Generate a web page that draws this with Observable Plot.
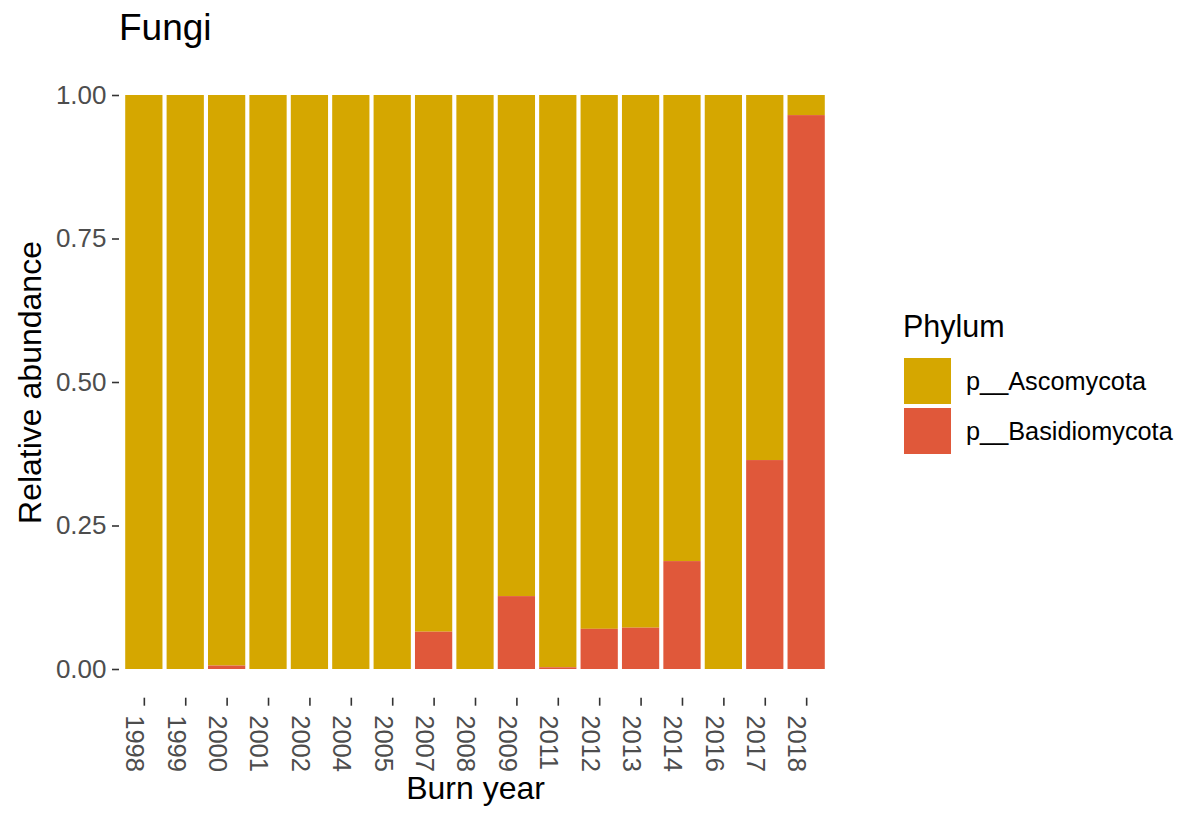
<!DOCTYPE html>
<html>
<head>
<meta charset="utf-8">
<script src="https://cdn.jsdelivr.net/npm/d3@7"></script>
<script src="https://cdn.jsdelivr.net/npm/@observablehq/plot@0.6"></script>
<style>
  body { margin: 0; background: #fff; font-family: "Liberation Sans", Arial, sans-serif; }
  #wrap { position: relative; width: 1180px; height: 814px; overflow: hidden; background: #fff; }
  #title { position: absolute; left: 119px; top: 9px; font-size: 37px; line-height: 1; color: #000; }
  #chart { position: absolute; left: 0; top: 60px; }
  #legend-title { position: absolute; left: 903px; top: 311px; font-size: 30.5px; line-height: 1; color: #000; }
  .sw { position: absolute; left: 904px; width: 47px; height: 46px; }
  .lab { position: absolute; left: 966px; height: 46px; line-height: 46px; font-size: 25.3px; color: #000; white-space: nowrap; }
</style>
</head>
<body>
<div id="wrap">
  <div id="title">Fungi</div>
  <div id="chart"></div>
  <div id="legend-title">Phylum</div>
  <div id="legend"></div>
</div>
<script>
const years = ["1998","1999","2000","2001","2002","2004","2005","2007","2008","2009","2011","2012","2013","2014","2016","2017","2018"];
const ascomycota    = [1, 1, 0.994, 1, 1, 1, 1, 0.935, 1, 0.873, 0.997, 0.930, 0.928, 0.812, 1, 0.636, 0.035];
const basidiomycota = [0, 0, 0.006, 0, 0, 0, 0, 0.065, 0, 0.127, 0.003, 0.070, 0.072, 0.188, 0, 0.364, 0.965];
const phyla = ["p__Ascomycota", "p__Basidiomycota"];
const phylaColors = ["#D5A700", "#E0583A"];
const yTicks = [0, 0.25, 0.5, 0.75, 1];
const xLabel = "Burn year";
const yLabel = "Relative abundance";

const rows = [];
years.forEach((yr, i) => {
  rows.push({year: yr, phylum: phyla[0], value: ascomycota[i]});
  rows.push({year: yr, phylum: phyla[1], value: basidiomycota[i]});
});

const font = "Liberation Sans, Arial, sans-serif";
const chart = Plot.plot({
  width: 1180,
  height: 754,
  marginLeft: 119,
  marginRight: 349,
  marginTop: 6.3,
  marginBottom: 116.3,
  insetTop: 28.7,
  insetBottom: 28.7,
  style: {fontFamily: font, background: "transparent", overflow: "visible"},
  x: {domain: years, paddingInner: 0.1, paddingOuter: 0.15, round: false, axis: null, label: null},
  y: {domain: [0, 1], axis: null, label: null},
  color: {domain: phyla, range: phylaColors},
  marks: [
    Plot.barY(rows, {x: "year", y: "value", fill: "phylum", order: [phyla[1], phyla[0]]}),
    Plot.axisY({ticks: yTicks, tickFormat: d3.format(".2f"), tickSize: 7, tickPadding: 6,
      fontSize: 26, stroke: "#333333", fill: "#4D4D4D", strokeWidth: 1.6, label: null}),
    Plot.axisX({tickSize: 8, tickFormat: () => "", stroke: "#333333", strokeWidth: 1.6, label: null}),
    Plot.axisX({tickSize: 0, tickPadding: 17, tickRotate: 90, dx: -10, fontSize: 25.5,
      fill: "#4D4D4D", label: null}),
    Plot.text([xLabel], {text: d => d, frameAnchor: "bottom", dy: 101, fontSize: 32,
      fill: "#000", textAnchor: "middle"}),
    Plot.text([yLabel], {text: d => d, frameAnchor: "left", dx: -89, rotate: -90, fontSize: 32,
      fill: "#000", textAnchor: "middle"})
  ]
});
document.getElementById("chart").appendChild(chart);

const legend = document.getElementById("legend");
phyla.forEach((p, i) => {
  const top = 358 + i * 50;
  const sw = document.createElement("div");
  sw.className = "sw";
  sw.style.top = top + "px";
  sw.style.background = phylaColors[i];
  legend.appendChild(sw);
  const lab = document.createElement("div");
  lab.className = "lab";
  lab.style.top = top + "px";
  lab.textContent = p;
  legend.appendChild(lab);
});
</script>
</body>
</html>
